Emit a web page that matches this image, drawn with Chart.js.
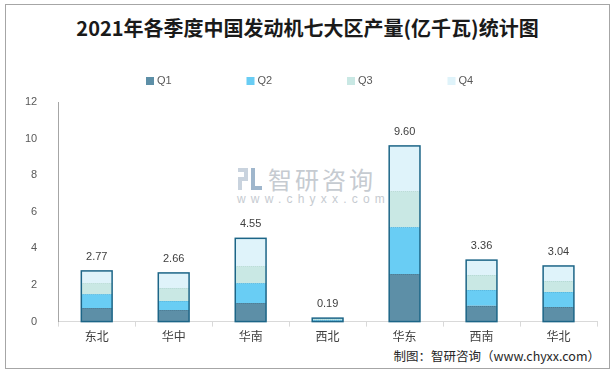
<!DOCTYPE html>
<html><head><meta charset="utf-8">
<script src="https://cdn.jsdelivr.net/npm/chart.js@4"></script>
<style>
html,body{margin:0;padding:0;background:#fff;}
#wrap{position:relative;width:615px;height:373px;overflow:hidden;font-family:"Noto Sans CJK SC","Liberation Sans",sans-serif;}
#frame{position:absolute;left:5px;top:4px;width:605px;height:365px;border:1px solid #a6a6a6;box-sizing:border-box;}
#title{position:absolute;left:0;top:15px;width:615px;text-align:center;font-size:20px;line-height:26px;font-weight:bold;color:#1a1a1a;}
#footer{position:absolute;right:15px;top:347px;font-size:12.5px;line-height:18px;color:#262626;}
#wm1{position:absolute;left:268px;top:164px;font-size:24px;line-height:30px;color:#c6cbd1;letter-spacing:3px;}
#wm2{position:absolute;left:237px;top:192px;font-size:12px;line-height:14px;color:#c6cbd1;letter-spacing:5.2px;font-family:"Liberation Sans",sans-serif;}
#logo{position:absolute;left:238px;top:168px;width:24px;height:22px;}
#logo div{position:absolute;background:#c9d3de;}
canvas{position:absolute;left:0;top:0;}
</style></head>
<body>
<div id="wrap">
<div id="frame"></div>
<div id="logo"><div style="left:0;top:0;width:10px;height:4px"></div><div style="left:6px;top:0;width:4px;height:12px"></div><div style="left:0;top:9px;width:10px;height:4px"></div><div style="left:0;top:9px;width:4px;height:13px"></div><div style="left:13px;top:0;width:4px;height:22px;background:#9fb6cc"></div><div style="left:13px;top:18px;width:11px;height:4px;background:#9fb6cc"></div></div>
<div id="wm1">智研咨询</div>
<div id="wm2">www.chyxx.com</div>
<div id="title">2021年各季度中国发动机七大区产量(亿千瓦)统计图</div>
<div id="footer">制图：智研咨询（www.chyxx.com）</div>
<canvas id="c" width="615" height="373"></canvas>
</div>
<script>
const categories = ['东北','华中','华南','西北','华东','西南','华北'];
const seriesNames = ['Q1','Q2','Q3','Q4'];
const q1 = [0.74,0.63,1.01,0.05,2.60,0.86,0.80];
const q2 = [0.76,0.49,1.09,0.05,2.56,0.87,0.82];
const q3 = [0.60,0.71,0.93,0.05,1.96,0.82,0.60];
const q4 = [0.67,0.83,1.52,0.04,2.48,0.81,0.82];
const totals = [2.77,2.66,4.55,0.19,9.60,3.36,3.04];
const yMin = 0, yMax = 12, yStep = 2;

const colors = ['#5d8fa7','#69cdf4','#c9e8e4','#dff3fa'];
const seriesData = [q1,q2,q3,q4];

const outlinePlugin = {
  id:'outline',
  afterDatasetsDraw(chart){
    const ctx = chart.ctx;
    const m0 = chart.getDatasetMeta(0), m3 = chart.getDatasetMeta(3);
    const m1 = chart.getDatasetMeta(1), m2 = chart.getDatasetMeta(2);
    ctx.save();
    ctx.setLineDash([1,1]);
    ctx.lineWidth = 1;
    [[m0,'#4a7a92'],[m1,'#5ab7dc'],[m2,'#b5d8d4']].forEach(([m,c])=>{
      m.data.forEach(el=>{
        ctx.strokeStyle = c;
        ctx.beginPath();
        ctx.moveTo(el.x-el.width/2, Math.round(el.y)+0.5);
        ctx.lineTo(el.x+el.width/2, Math.round(el.y)+0.5);
        ctx.stroke();
      });
    });
    ctx.setLineDash([]);
    ctx.strokeStyle = '#1c6587';
    ctx.lineWidth = 1.5;
    ctx.font = '11px "Liberation Sans", sans-serif';
    ctx.fillStyle = '#404040';
    ctx.textAlign = 'center';
    ctx.textBaseline = 'middle';
    m0.data.forEach((el,i)=>{
      const top = m3.data[i].y;
      const bottom = el.base;
      const w = el.width;
      ctx.strokeRect(el.x - w/2, top, w, bottom - top);
      ctx.fillText(totals[i].toFixed(2), el.x, top - 14);
    });
    ctx.restore();
  }
};

const legendPlugin = {
  id:'customLegend',
  afterDraw(chart){
    const ctx = chart.ctx;
    ctx.save();
    ctx.font = '11px "Liberation Sans", sans-serif';
    ctx.textBaseline = 'middle';
    ctx.textAlign = 'left';
    const start = 146, gap = 100.5, y = 81;
    chart.data.datasets.forEach((ds,i)=>{
      const x = start + i*gap;
      ctx.fillStyle = ds.backgroundColor;
      ctx.fillRect(x, y-4, 8, 8);
      ctx.fillStyle = '#595959';
      ctx.fillText(ds.label, x+11, y);
    });
    ctx.restore();
  }
};

new Chart(document.getElementById('c'), {
  type:'bar',
  data:{
    labels: categories,
    datasets: seriesNames.map((n,i)=>({
      label:n, data:seriesData[i], backgroundColor:colors[i], borderWidth:0,
      barPercentage:0.4, categoryPercentage:1.0
    }))
  },
  options:{
    responsive:false,
    animation:false,
    layout:{padding:{top:102,left:12,right:18,bottom:26}},
    plugins:{legend:{display:false}, title:{display:false}, tooltip:{enabled:false}},
    scales:{
      x:{
        stacked:true,
        grid:{display:true, drawOnChartArea:false, drawTicks:true, tickLength:5, color:'#d9d9d9', offset:true},
        border:{display:true, color:'#d9d9d9', width:1},
        ticks:{color:'#404040', font:{size:12, family:'"Noto Sans CJK SC", sans-serif'}, padding:3}
      },
      y:{
        stacked:true, min:yMin, max:yMax,
        grid:{display:false},
        border:{display:true, color:'#a6a6a6', width:1},
        ticks:{stepSize:yStep, color:'#595959', font:{size:11, family:'"Liberation Sans", sans-serif'}, padding:13}
      }
    }
  },
  plugins:[outlinePlugin, legendPlugin]
});
</script>
</body></html>
